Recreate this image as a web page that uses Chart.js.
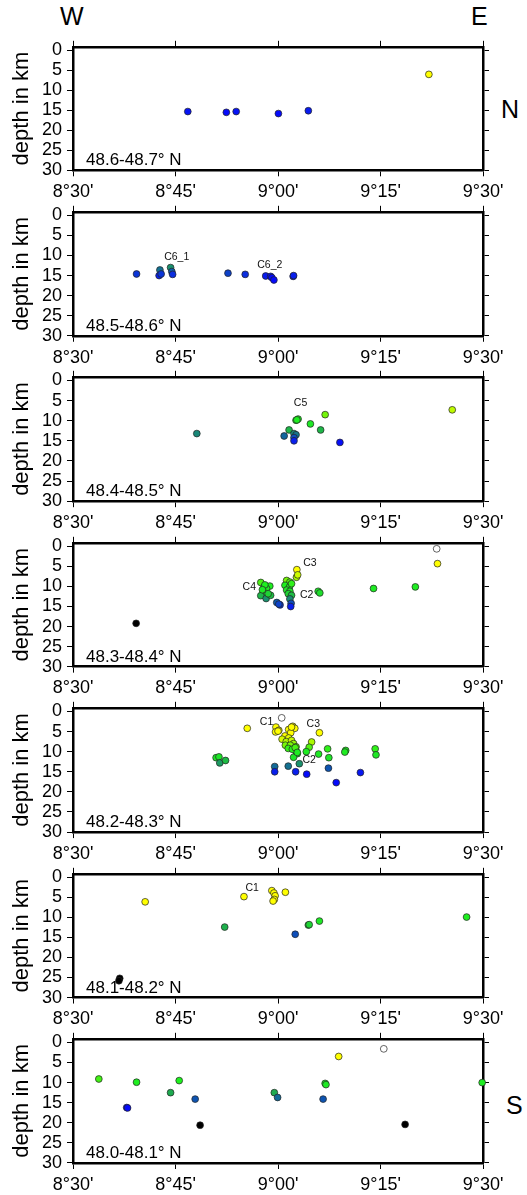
<!DOCTYPE html>
<html>
<head>
<meta charset="utf-8">
<script src="https://cdn.jsdelivr.net/npm/chart.js@4.4.1/dist/chart.umd.min.js"></script>
<style>
  body { margin: 0; background: #fff; }
  #wrap { position: relative; width: 527px; height: 1195px; font-family: "Liberation Sans", Arial, sans-serif; overflow: hidden; }
  #wrap canvas { position: absolute; left: 0; }
  .side { position: absolute; font-size: 25px; line-height: 25px; color: #000; white-space: nowrap; }
</style>
</head>
<body>
<div id="wrap">
  <span class="side" style="left:60px;top:4px">W</span>
  <span class="side" style="left:471px;top:4px">E</span>
  <span class="side" style="left:501px;top:97px">N</span>
  <span class="side" style="left:506px;top:1093px">S</span>
</div>
<script>
// latitude bands, north to south
const panelNames = ['48.6-48.7° N', '48.5-48.6° N', '48.4-48.5° N', '48.3-48.4° N',
                    '48.2-48.3° N', '48.1-48.2° N', '48.0-48.1° N'];

// longitude (decimal degrees) and depth (km) of each event, per band
const p1Lon = [8.780, 8.874, 8.898, 9.001, 9.074, 9.368];
const p1Dep = [15.3, 15.5, 15.3, 15.8, 15.1, 6.0];

const p2Lon = [8.655, 8.712, 8.710, 8.715, 8.738, 8.741, 8.743, 8.878, 8.920, 8.970, 8.982, 8.985, 8.990, 9.037, 9.038];
const p2Dep = [14.6, 13.6, 15.0, 14.6, 13.0, 14.0, 14.7, 14.4, 14.7, 15.1, 15.2, 15.5, 16.1, 15.2, 15.0];

const p3Lon = [8.802, 9.015, 9.027, 9.039, 9.044, 9.039, 9.039, 9.044, 9.049, 9.046, 9.079, 9.104, 9.115, 9.151, 9.425];
const p3Dep = [13.2, 13.8, 12.3, 13.2, 13.5, 14.2, 15.0, 9.9, 9.6, 9.8, 10.8, 12.3, 8.5, 15.4, 7.3];

const p4Lon = [8.958, 8.966, 8.980, 8.972, 8.964, 8.958, 8.971, 8.982, 8.976, 8.968, 8.962,
               9.021, 9.029, 9.017, 9.028, 9.033, 9.021, 9.029, 9.025, 9.033, 9.029, 9.032, 9.031, 8.997, 9.005, 9.002,
               9.046, 9.045, 9.048, 9.098, 9.102, 9.233, 9.335, 9.387, 9.389, 8.654];
const p4Dep = [9.0, 10.1, 9.9, 10.5, 11.4, 12.3, 13.0, 12.2, 11.8, 9.6, 10.8,
               8.5, 8.9, 9.7, 10.1, 9.3, 10.9, 11.2, 11.8, 12.2, 13.1, 14.2, 15.0, 14.0, 14.6, 14.4,
               5.8, 7.7, 7.1, 11.2, 11.6, 10.5, 10.1, 0.6, 4.3, 19.2];

const p5Lon = [9.009, 8.925, 9.101, 8.995, 9.002, 8.994, 9.036, 9.041, 9.026, 9.031, 9.017, 9.000, 9.033,
               9.010, 9.026, 9.020, 9.033, 9.038, 9.018, 9.030, 9.044, 9.025, 9.044, 9.047, 9.038, 9.035, 9.042, 9.047,
               9.082, 9.076, 9.069, 9.099, 9.121, 9.124, 9.165, 9.163, 9.237, 9.239,
               8.849, 8.856, 8.858, 8.872,
               9.052, 8.992, 9.025, 9.123,
               8.992, 9.043, 9.070, 9.142, 9.201];
const p5Dep = [1.6, 4.2, 5.3, 3.9, 4.7, 5.1, 3.7, 4.2, 4.5, 5.3, 6.1, 4.9, 3.9,
               6.9, 6.6, 7.5, 7.2, 8.0, 8.4, 8.4, 8.8, 9.2, 10.0, 10.5, 11.4, 9.4, 9.0, 10.2,
               7.6, 8.9, 10.0, 10.6, 9.3, 11.5, 9.7, 10.1, 9.3, 10.8,
               11.5, 11.3, 12.8, 12.2,
               13.0, 13.7, 13.6, 14.1,
               15.0, 15.0, 15.6, 17.7, 15.2];

const p6Lon = [8.676, 8.614, 8.612, 8.870, 8.917, 8.985, 8.990, 8.993, 8.991, 8.988, 9.018, 9.042, 9.074, 9.076, 9.101, 9.460];
const p6Dep = [6.1, 25.2, 25.8, 12.4, 4.8, 3.3, 3.9, 4.6, 5.5, 5.9, 3.7, 14.2, 11.9, 11.8, 10.9, 9.9];

const p7Lon = [8.563, 8.631, 8.633, 8.655, 8.738, 8.759, 8.798, 8.810, 8.991, 8.999, 9.115, 9.117, 9.110, 9.148, 9.258, 9.310, 9.498];
const p7Dep = [9.1, 16.2, 16.3, 9.9, 12.5, 9.5, 14.1, 20.6, 12.5, 13.7, 10.2, 10.5, 14.1, 3.5, 1.6, 20.4, 10.0];

const panelLon = [p1Lon, p2Lon, p3Lon, p4Lon, p5Lon, p6Lon, p7Lon];
const panelDep = [p1Dep, p2Dep, p3Dep, p4Dep, p5Dep, p6Dep, p7Dep];

// cluster names, anchored at a longitude / depth
const clusterLabels = [
  { panel: 1, lon: 8.753, dep: 10.4, text: 'C6_1' },
  { panel: 1, lon: 8.980, dep: 12.4, text: 'C6_2' },
  { panel: 2, lon: 9.055, dep: 5.7, text: 'C5' },
  { panel: 3, lon: 9.078, dep: 4.2, text: 'C3' },
  { panel: 3, lon: 8.930, dep: 10.2, text: 'C4' },
  { panel: 3, lon: 9.070, dep: 12.2, text: 'C2' },
  { panel: 4, lon: 8.972, dep: 2.6, text: 'C1' },
  { panel: 4, lon: 9.086, dep: 3.2, text: 'C3' },
  { panel: 4, lon: 9.076, dep: 12.2, text: 'C2' },
  { panel: 5, lon: 8.937, dep: 2.7, text: 'C1' },
];

const xTickVals = [8.5, 8.75, 9.0, 9.25, 9.5];
const xTickLabels = ["8°30'", "8°45'", "9°00'", "9°15'", "9°30'"];
const yTickVals = [0, 5, 10, 15, 20, 25, 30];

// depth colour palette
const cptDepth = [6.2, 7.3, 8.6, 9.5, 11.5, 12.5, 13.2, 14.0, 14.8, 15.5];
const cptColor = [[255,255,0], [190,250,0], [110,245,10], [30,240,30], [30,228,40],
                  [30,170,80], [25,135,120], [15,90,170], [10,40,230], [5,10,250]];

function depthColor(d) {
    if (d < 2.5) return '#ffffff';
    if (d >= 19) return '#000000';
    if (d <= cptDepth[0]) return 'rgb(' + cptColor[0].join(',') + ')';
    for (let k = 1; k < cptDepth.length; k++) {
        if (d <= cptDepth[k]) {
            const t = (d - cptDepth[k - 1]) / (cptDepth[k] - cptDepth[k - 1]);
            const c = cptColor[k - 1].map((v, j) => Math.round(v + t * (cptColor[k][j] - v)));
            return 'rgb(' + c.join(',') + ')';
        }
    }
    return 'rgb(' + cptColor[cptColor.length - 1].join(',') + ')';
}

Chart.defaults.font.family = '"Liberation Sans", Arial, sans-serif';
Chart.defaults.color = '#000';

const PLOT_L = 73, PLOT_R = 483, TOP0 = 43, STEP = 165.45, PLOT_H = 127.3, CAN_H = 172, W = 527;

const textPlugin = {
    id: 'panelText',
    beforeDatasetsDraw(chart, args, opts) {
        const { ctx, chartArea } = chart;
        ctx.save();
        ctx.fillStyle = '#000';
        ctx.font = '17px "Liberation Sans", Arial, sans-serif';
        ctx.textAlign = 'left';
        ctx.textBaseline = 'alphabetic';
        ctx.fillText(opts.name, chartArea.left + 13, chartArea.bottom - 5);
        ctx.restore();
    },
    afterDatasetsDraw(chart, args, opts) {
        const { ctx, scales } = chart;
        ctx.save();
        ctx.fillStyle = '#111';
        ctx.font = '10.5px "Liberation Sans", Arial, sans-serif';
        ctx.textAlign = 'center';
        ctx.textBaseline = 'middle';
        opts.labels.forEach(l => {
            ctx.fillText(l.text, scales.x.getPixelForValue(l.lon), scales.y.getPixelForValue(l.dep));
        });
        ctx.restore();
    },
};

const wrap = document.getElementById('wrap');

panelNames.forEach((name, i) => {
    const top = TOP0 + i * STEP;
    const canTop = Math.floor(top) - 12;
    const topH = top - canTop;
    const botH = CAN_H - topH - PLOT_H;

    const cv = document.createElement('canvas');
    cv.width = W;
    cv.height = CAN_H;
    cv.style.top = canTop + 'px';
    cv.style.width = W + 'px';
    cv.style.height = CAN_H + 'px';
    wrap.appendChild(cv);

    const grid = { drawOnChartArea: false, drawTicks: true, tickLength: 6, color: '#000', lineWidth: 1 };
    const border = { display: true, color: '#000', width: 2.5 };

    const xScale = (pos, show) => ({
        type: 'linear', position: pos, min: 8.5, max: 9.5,
        afterBuildTicks: s => { s.ticks = xTickVals.map(v => ({ value: v })); },
        afterFit: s => { s.height = pos === 'top' ? topH : botH; },
        ticks: { display: show, color: '#000', font: { size: 18 }, padding: 5, maxRotation: 0, autoSkip: false,
                 callback: (v, idx) => xTickLabels[idx] },
        grid, border,
    });
    const yScale = (pos, show) => ({
        type: 'linear', position: pos, reverse: true, min: -0.9, max: 30,
        afterBuildTicks: s => { s.ticks = yTickVals.map(v => ({ value: v })); },
        afterFit: s => { s.width = pos === 'left' ? PLOT_L : W - PLOT_R; },
        ticks: { display: show, color: '#000', font: { size: 18 }, padding: 5, autoSkip: false },
        grid, border,
        title: { display: pos === 'left', text: 'depth in km', color: '#000', font: { size: 22 }, padding: { top: 9, bottom: 0 } },
    });

    const lon = panelLon[i], dep = panelDep[i];
    new Chart(cv.getContext('2d'), {
        type: 'scatter',
        data: {
            datasets: [{
                data: lon.map((x, k) => ({ x, y: dep[k] })),
                xAxisID: 'x', yAxisID: 'y',
                pointRadius: 3.4,
                pointBackgroundColor: dep.map(depthColor),
                pointBorderColor: '#222',
                pointBorderWidth: 0.7,
                clip: false,
            }],
        },
        options: {
            responsive: false,
            animation: false,
            devicePixelRatio: 1,
            layout: { padding: 0 },
            plugins: {
                legend: { display: false },
                tooltip: { enabled: false },
                panelText: { name, labels: clusterLabels.filter(l => l.panel === i) },
            },
            scales: {
                x: xScale('bottom', true),
                x2: xScale('top', false),
                y: yScale('left', true),
                y2: yScale('right', false),
            },
        },
        plugins: [textPlugin],
    });
});
</script>
</body>
</html>
